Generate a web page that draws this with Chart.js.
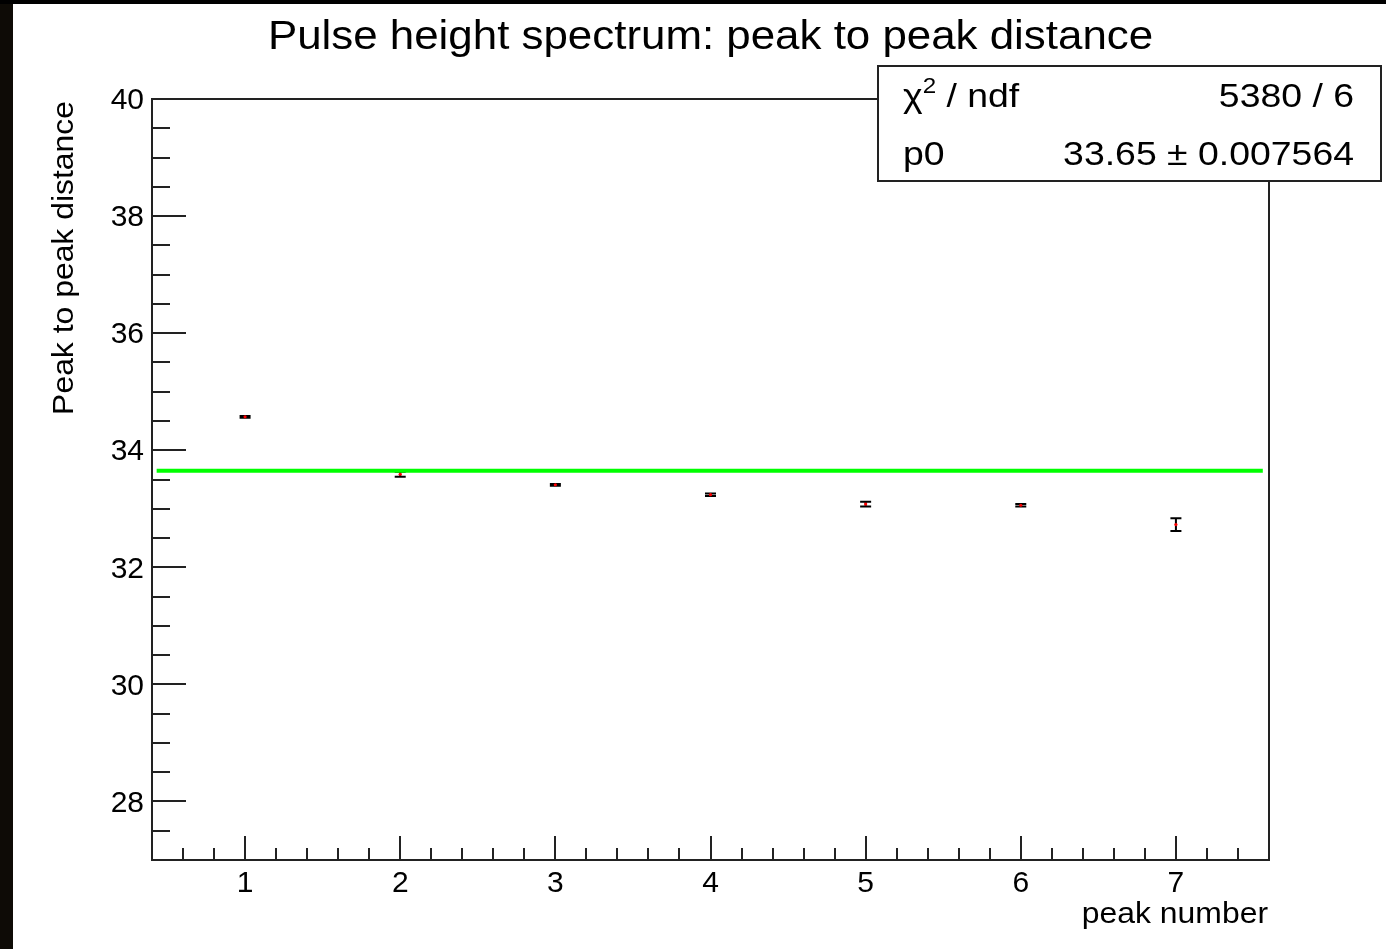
<!DOCTYPE html>
<html>
<head>
<meta charset="utf-8">
<title>Pulse height spectrum: peak to peak distance</title>
<script src="https://cdn.jsdelivr.net/npm/chart.js@4.4.1/dist/chart.umd.min.js"></script>
<style>
  html, body { margin: 0; padding: 0; background: #fff; overflow: hidden; }
  #wrap { position: relative; width: 1386px; height: 949px; }
  canvas { display: block; }
</style>
</head>
<body>
<div id="wrap"><canvas id="c" width="1386" height="949"></canvas></div>
<script>
// Measured peak-to-peak distances per peak, with their errors
const peakNumbers = [1, 2, 3, 4, 5, 6, 7];
const peakDistance = [34.57, 33.59, 33.41, 33.24, 33.08, 33.06, 32.73];
const peakDistanceErr = [0.015, 0.043, 0.015, 0.02, 0.04, 0.02, 0.11];

// Constant (pol0) fit result
const fitP0 = 33.65;
const fitP0Err = 0.007564;
const fitChi2 = 5380;
const fitNdf = 6;
const fitRange = [0.43, 7.56];

// Axis ticks
const xTickValues = [1, 2, 3, 4, 5, 6, 7];
const yTickValues = [28, 30, 32, 34, 36, 38, 40];
const xRange = [0.4, 7.6];
const yRange = [27, 40];

const FONT = '"Liberation Sans", Arial, Helvetica, sans-serif';
const INK = '#222';

function stretchedText(ctx, text, x, y, size, align, stretch, rotate) {
  ctx.save();
  ctx.translate(x, y);
  if (rotate) ctx.rotate(rotate);
  ctx.scale(stretch || 1, 1);
  ctx.font = size + 'px ' + FONT;
  ctx.textAlign = align || 'left';
  ctx.textBaseline = 'alphabetic';
  ctx.fillStyle = '#000';
  ctx.fillText(text, 0, 0);
  ctx.restore();
}

function textWidth(ctx, text, size, stretch) {
  ctx.save();
  ctx.font = size + 'px ' + FONT;
  const w = ctx.measureText(text).width * (stretch || 1);
  ctx.restore();
  return w;
}

// Page background and the dark border strips
const backdrop = {
  id: 'backdrop',
  beforeDraw(chart) {
    const ctx = chart.ctx;
    ctx.save();
    ctx.fillStyle = '#fff';
    ctx.fillRect(0, 0, chart.width, chart.height);
    ctx.fillStyle = '#0e0b06';
    ctx.fillRect(0, 0, 13, chart.height);
    ctx.fillStyle = '#000';
    ctx.fillRect(0, 0, chart.width, 4);
    ctx.restore();
  }
};

// Vertical error bars with end caps
const errorBars = {
  id: 'errorBars',
  beforeDatasetsDraw(chart) {
    const ctx = chart.ctx;
    const xs = chart.scales.x, ys = chart.scales.y;
    const cap = 5.5;
    ctx.save();
    ctx.strokeStyle = '#000';
    ctx.lineWidth = 2;
    peakNumbers.forEach((n, i) => {
      const px = xs.getPixelForValue(n);
      const lo = ys.getPixelForValue(peakDistance[i] - peakDistanceErr[i]);
      const hi = ys.getPixelForValue(peakDistance[i] + peakDistanceErr[i]);
      ctx.beginPath();
      ctx.moveTo(px, lo); ctx.lineTo(px, hi);
      ctx.moveTo(px - cap, lo); ctx.lineTo(px + cap, lo);
      ctx.moveTo(px - cap, hi); ctx.lineTo(px + cap, hi);
      ctx.stroke();
    });
    ctx.restore();
  }
};

// Frame, inward tick marks, titles and the fit statistics box
const decorations = {
  id: 'decorations',
  afterDraw(chart) {
    const ctx = chart.ctx;
    const xs = chart.scales.x, ys = chart.scales.y;
    const a = chart.chartArea;
    ctx.save();
    ctx.strokeStyle = INK;
    ctx.lineWidth = 2;
    ctx.strokeRect(a.left, a.top, a.right - a.left, a.bottom - a.top);

    ctx.beginPath();
    // x ticks (major every 1, minor every 0.2)
    for (let k = Math.ceil(xRange[0] * 5); k <= Math.floor(xRange[1] * 5); k++) {
      const v = k / 5;
      const major = k % 5 === 0;
      const px = Math.round(xs.getPixelForValue(v));
      ctx.moveTo(px, a.bottom);
      ctx.lineTo(px, a.bottom - (major ? 24 : 12));
    }
    // y ticks (major every 2, minor every 0.5)
    for (let k = Math.ceil(yRange[0] * 2); k <= Math.floor(yRange[1] * 2); k++) {
      const v = k / 2;
      const major = k % 4 === 0;
      const py = Math.round(ys.getPixelForValue(v));
      ctx.moveTo(a.left, py);
      ctx.lineTo(a.left + (major ? 34 : 18), py);
    }
    ctx.stroke();
    ctx.restore();

    // Titles
    stretchedText(ctx, 'Pulse height spectrum: peak to peak distance', 710.5, 49, 41, 'center', 1.07);
    stretchedText(ctx, 'peak number', a.right - 1, 923, 29, 'right', 1.1);
    stretchedText(ctx, 'Peak to peak distance', 73, a.top + 2, 29, 'right', 1.1, -Math.PI / 2);

    // Statistics box
    const bx = 878, by = 66, bw = 503, bh = 115;
    ctx.save();
    ctx.fillStyle = '#fff';
    ctx.fillRect(bx, by, bw, bh);
    ctx.strokeStyle = INK;
    ctx.lineWidth = 2;
    ctx.strokeRect(bx, by, bw, bh);
    ctx.restore();

    const fs = 34, st = 1.1;
    const left = 903, right = 1354;
    const row1 = 107, row2 = 165;
    let x = left;
    stretchedText(ctx, '\u03C7', x, row1, fs, 'left', st);
    x += textWidth(ctx, '\u03C7', fs, st);
    stretchedText(ctx, '2', x, row1 - 14, 22, 'left', st);
    x += textWidth(ctx, '2', 22, st);
    stretchedText(ctx, ' / ndf', x, row1, fs, 'left', st);
    stretchedText(ctx, fitChi2 + ' / ' + fitNdf, right, row1, fs, 'right', st);

    stretchedText(ctx, 'p0', left, row2, fs, 'left', st);
    stretchedText(ctx, fitP0.toFixed(2) + ' \u00B1 ' + String(fitP0Err), right, row2, fs, 'right', st);
  }
};

const tickFont = { family: FONT, size: 30 };

new Chart(document.getElementById('c'), {
  type: 'scatter',
  data: {
    datasets: [
      {
        label: 'peak distance',
        data: peakNumbers.map((n, i) => ({ x: n, y: peakDistance[i] })),
        pointRadius: 1.6,
        pointBackgroundColor: '#ff0000',
        pointBorderWidth: 0,
        showLine: false
      },
      {
        label: 'pol0 fit',
        data: fitRange.map(x => ({ x: x, y: fitP0 })),
        showLine: true,
        borderColor: '#00ff00',
        borderWidth: 4,
        pointRadius: 0,
        fill: false
      }
    ]
  },
  options: {
    responsive: false,
    animation: false,
    devicePixelRatio: 1,
    events: [],
    layout: { padding: { top: 99, right: 117, left: 0, bottom: 0 } },
    plugins: {
      legend: { display: false },
      tooltip: { enabled: false },
      title: { display: false }
    },
    scales: {
      x: {
        type: 'linear',
        min: xRange[0],
        max: xRange[1],
        grid: { display: false, drawTicks: false },
        border: { display: false },
        afterBuildTicks: s => { s.ticks = xTickValues.map(v => ({ value: v })); },
        afterFit: s => { s.height = 89; },
        ticks: {
          autoSkip: false,
          maxRotation: 0,
          padding: 6,
          color: '#000',
          font: tickFont,
          callback: v => String(v)
        }
      },
      y: {
        type: 'linear',
        min: yRange[0],
        max: yRange[1],
        grid: { display: false, drawTicks: false },
        border: { display: false },
        afterBuildTicks: s => { s.ticks = yTickValues.map(v => ({ value: v })); },
        afterFit: s => { s.width = 152; },
        ticks: {
          autoSkip: false,
          padding: 8,
          labelOffset: 2,
          color: '#000',
          font: tickFont,
          callback: v => String(v)
        }
      }
    }
  },
  plugins: [backdrop, errorBars, decorations]
});
</script>
</body>
</html>
